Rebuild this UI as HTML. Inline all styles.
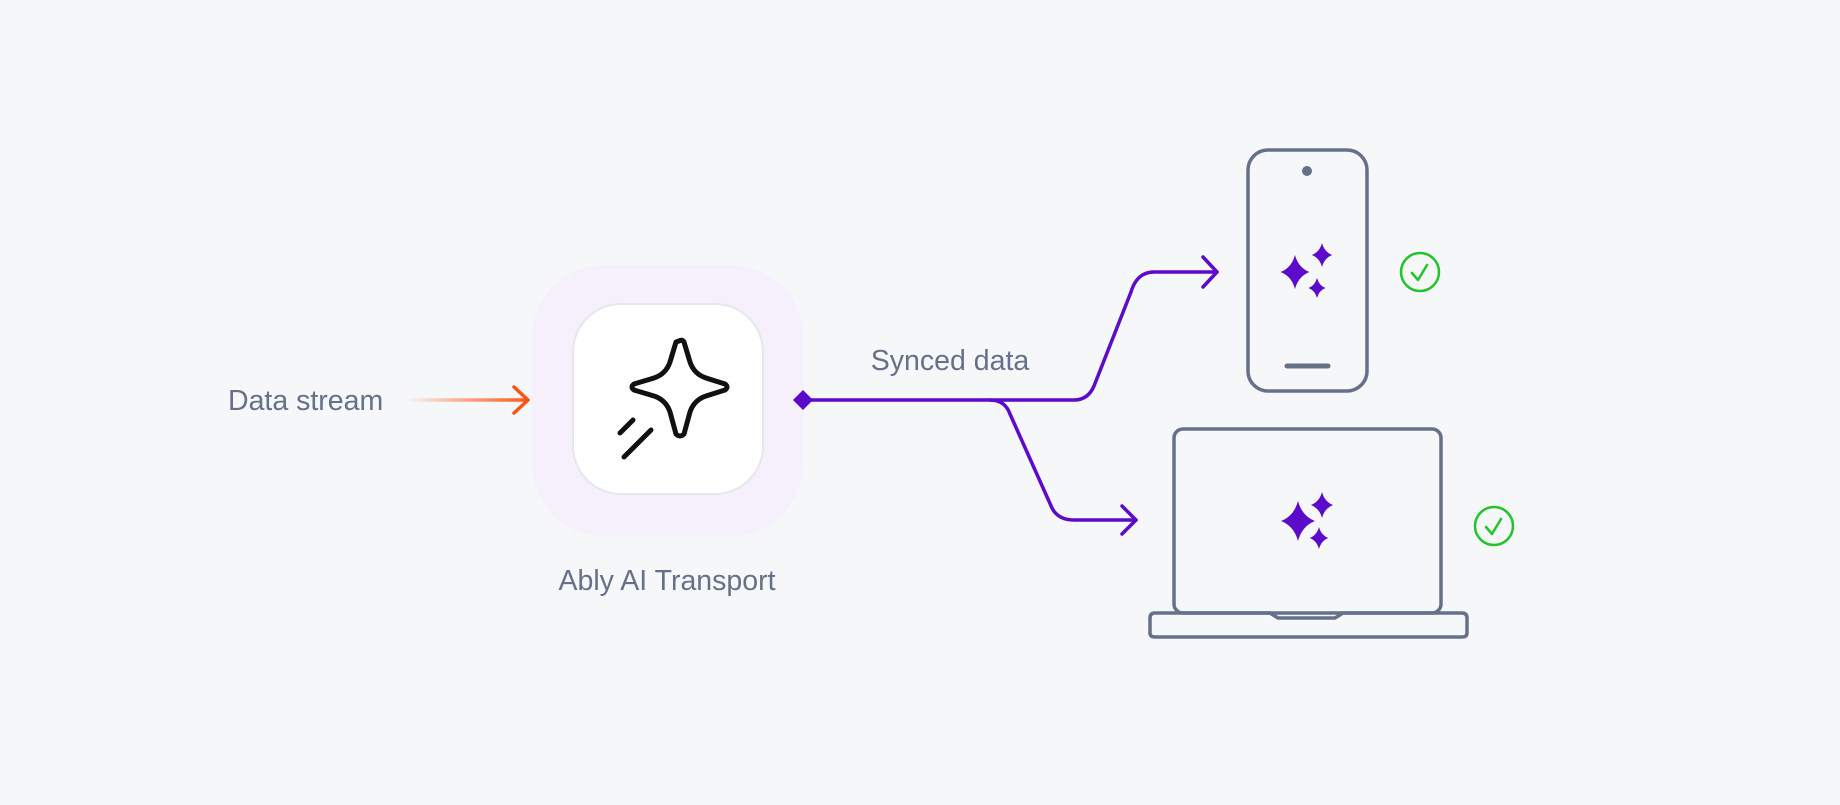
<!DOCTYPE html>
<html><head><meta charset="utf-8"><style>
html,body{margin:0;padding:0;background:#f6f7f9;}
body{width:1840px;height:800px;overflow:hidden;font-family:"Liberation Sans",sans-serif;}
</style></head><body>
<svg width="1840" height="800" viewBox="0 0 1840 800" xmlns="http://www.w3.org/2000/svg">
<defs>
<linearGradient id="og" x1="405" y1="0" x2="529" y2="0" gradientUnits="userSpaceOnUse">
<stop offset="0" stop-color="#ff5416" stop-opacity="0"/><stop offset="1" stop-color="#ff5416"/>
</linearGradient>
<path id="sp" d="M0,-1 Q0.2,-0.25 0.85,0 Q0.2,0.25 0,1 Q-0.2,0.25 -0.85,0 Q-0.2,-0.25 0,-1Z"/>
</defs>
<rect width="1840" height="800" fill="#f6f7f9"/>
<rect x="532" y="265" width="271" height="271" rx="72" fill="#f5f0fb"/>
<rect x="573" y="304" width="190" height="190" rx="48" fill="#fff" stroke="#e6e7ec" stroke-width="2"/>
<path d="M679,341 Q682,339 684,342 L690,362 Q694,374 706,378 L725,384 Q729,387 725,390 L706,396 Q694,400 690,412 L684,434 Q680,438 676,434 L670,412 Q666,400 654,396 L634,390 Q630,387 634,384 L654,378 Q666,374 670,362 L676,342Z" fill="none" stroke="#111" stroke-width="5" stroke-linejoin="round"/>
<line x1="620" y1="433" x2="633" y2="420" stroke="#111" stroke-width="5" stroke-linecap="round"/>
<line x1="624" y1="457" x2="651" y2="430" stroke="#111" stroke-width="5" stroke-linecap="round"/>
<text x="228" y="410" font-size="28.5" fill="#667089">Data stream</text>
<text x="667" y="590" font-size="28.5" fill="#667089" text-anchor="middle">Ably AI Transport</text>
<text x="950" y="370" font-size="28.5" fill="#667089" text-anchor="middle">Synced data</text>
<line x1="405" y1="400" x2="527" y2="400" stroke="url(#og)" stroke-width="3.5"/>
<path d="M514,387 L528,400 L514,413" fill="none" stroke="#ff5416" stroke-width="3.5" stroke-linecap="round" stroke-linejoin="round"/>
<g fill="none" stroke="#5b0bc9" stroke-width="3.5" stroke-linecap="round" stroke-linejoin="round">
<path d="M805,400 L1074,400 Q1088,400 1094,386 L1131,292 Q1137,272 1154,272 L1217,272"/>
<path d="M1203,257 L1217,272 L1203,287"/>
<path d="M990,400 Q1005,400 1010,414 L1052,508 Q1058,520 1074,520 L1136,520"/>
<path d="M1122,506 L1136,520 L1122,534"/>
</g>
<polygon points="803,390 813,400 803,410 793,400" fill="#5b0bc9"/>
<g fill="none" stroke="#667089" stroke-width="3.5">
<rect x="1248" y="150" width="119" height="241" rx="20"/>
<rect x="1174" y="429" width="267" height="184" rx="9"/>
<path d="M1155,613 L1270,613 L1278,618 L1335,618 L1343,613 L1462,613 Q1467,613 1467,618 L1467,633 Q1467,637 1462,637 L1155,637 Q1150,637 1150,633 L1150,618 Q1150,613 1155,613Z"/>
</g>
<circle cx="1307" cy="171" r="5" fill="#667089"/>
<line x1="1287" y1="366" x2="1328" y2="366" stroke="#667089" stroke-width="5" stroke-linecap="round"/>
<g fill="#5b0bc9">
<use href="#sp" transform="translate(1295,272) scale(17)"/>
<use href="#sp" transform="translate(1322,255) scale(12)"/>
<use href="#sp" transform="translate(1317,288) scale(10)"/>
<use href="#sp" transform="translate(1298,521) scale(20)"/>
<use href="#sp" transform="translate(1322,505) scale(13)"/>
<use href="#sp" transform="translate(1319,538) scale(11)"/>
</g>
<g fill="none" stroke="#22c42a" stroke-width="2.5" stroke-linecap="round" stroke-linejoin="round">
<circle cx="1420" cy="272" r="19"/>
<path d="M1412,273 L1418,280 L1427,265"/>
<circle cx="1494" cy="526" r="19"/>
<path d="M1486,527 L1492,534 L1501,519"/>
</g>
</svg>
</body></html>
